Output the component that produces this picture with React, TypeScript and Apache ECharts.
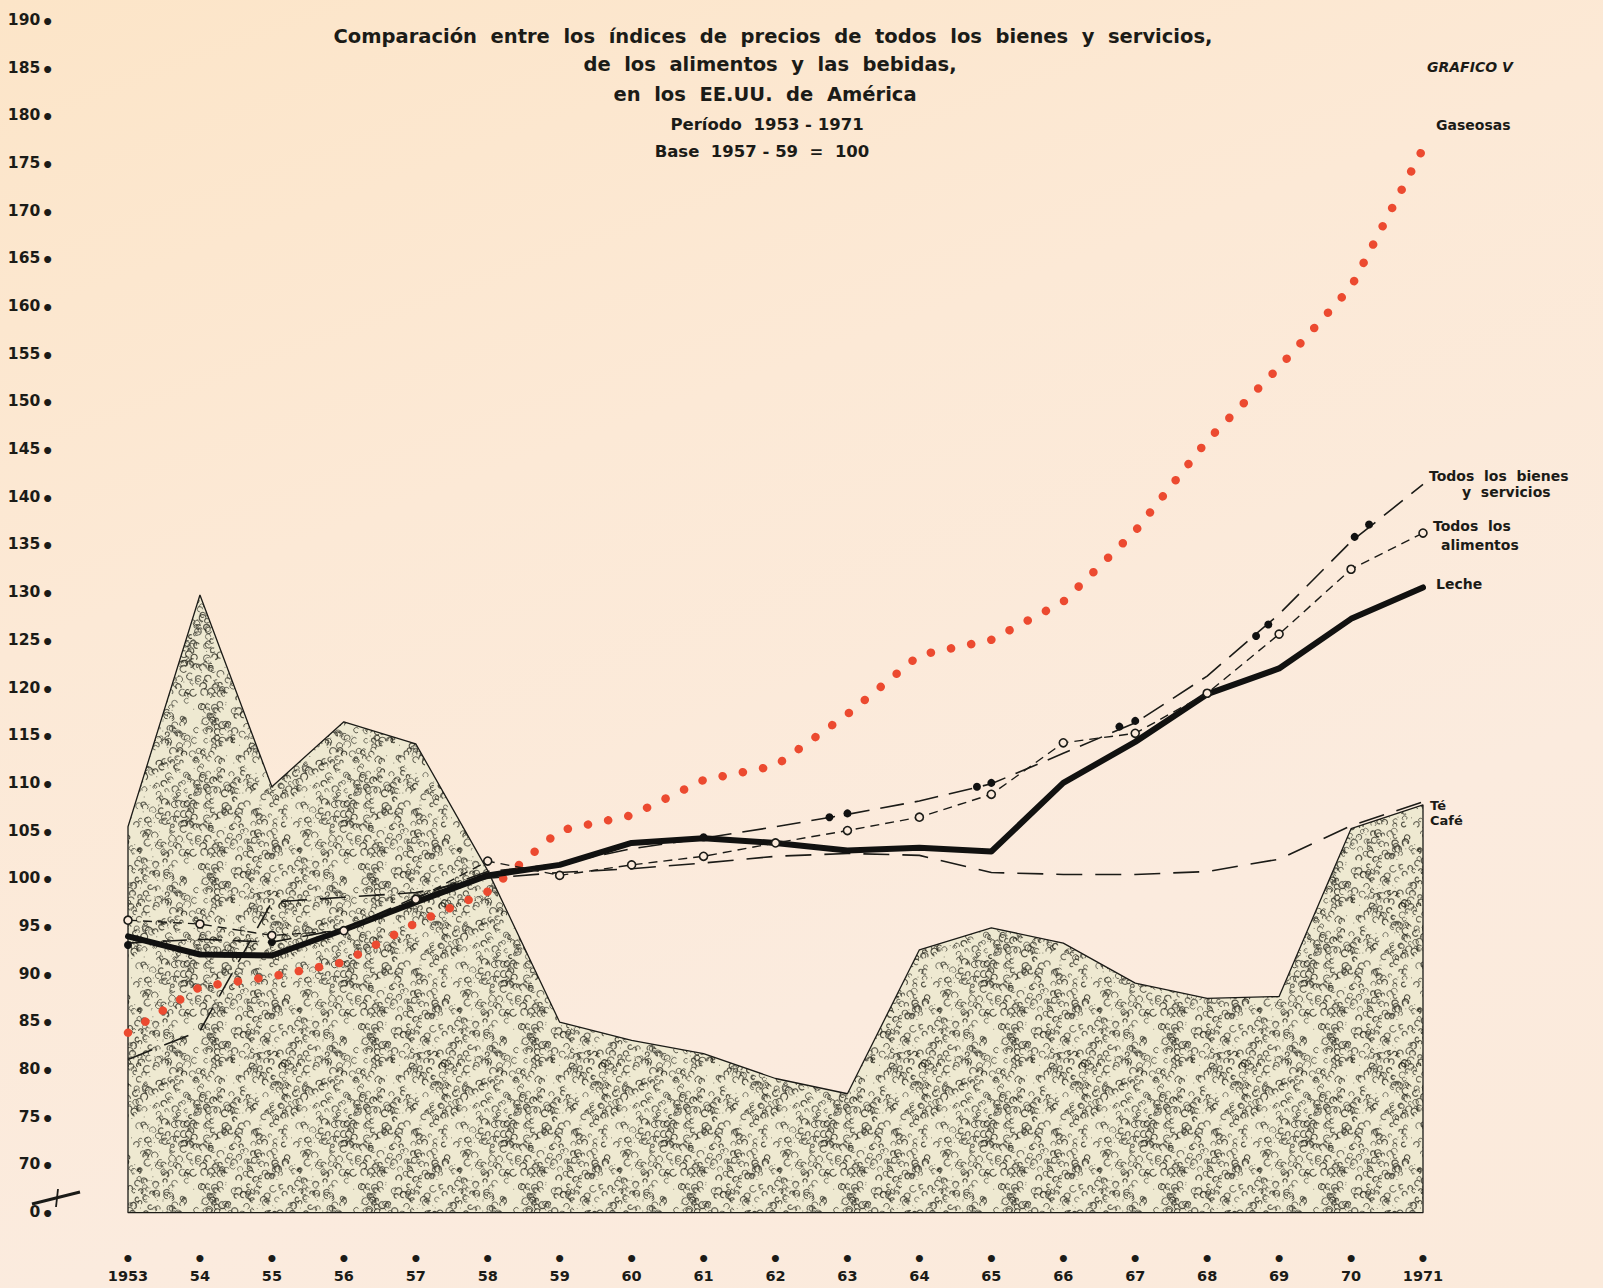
import React, { useEffect, useRef } from "react";
import * as echarts from "echarts";

const years = [1953, 1954, 1955, 1956, 1957, 1958, 1959, 1960, 1961, 1962, 1963, 1964, 1965, 1966, 1967, 1968, 1969, 1970, 1971];
const gaseosas = [83.8, 88.6, 89.7, 91.2, 95.3, 98.6, 105.0, 106.6, 110.3, 111.8, 117.2, 123.4, 125.0, 129.0, 136.4, 145.9, 153.6, 162.0, 176.5];
const todosBienes = [93.2, 93.6, 93.3, 94.7, 98.0, 100.7, 101.5, 103.1, 104.2, 105.4, 106.7, 108.1, 109.9, 113.1, 116.3, 121.2, 127.7, 135.3, 141.3];
const todosAlimentos = [95.6, 95.2, 94.0, 94.5, 97.8, 101.8, 100.3, 101.4, 102.3, 103.7, 105.0, 106.4, 108.8, 114.2, 115.2, 119.4, 125.6, 132.4, 136.2];
const leche = [93.9, 92.0, 91.9, 94.6, 97.5, 100.3, 101.4, 103.7, 104.2, 103.7, 102.9, 103.2, 102.8, 110.0, 114.3, 119.3, 122.0, 127.2, 130.5];
const te = [81.0, 84.0, 97.5, 98.0, 98.5, 100.0, 100.6, 101.0, 101.6, 102.3, 102.6, 102.4, 100.6, 100.4, 100.4, 100.7, 102.0, 105.5, 108.0];
const cafe = [105.4, 129.7, 109.6, 116.4, 114.1, 100.8, 84.9, 83.0, 81.6, 79.0, 77.4, 92.5, 94.8, 93.2, 89.0, 87.4, 87.6, 105.2, 107.7];
// filled dots drawn along the "Todos los bienes" line: [year, index]
const bienesDots = [
  [1953, 93.0], [1955, 93.3], [1961, 104.3],
  [1962.75, 106.4], [1963, 106.8],
  [1964.8, 109.6], [1965, 110.0],
  [1966.78, 115.9], [1967, 116.5],
  [1968.68, 125.4], [1968.85, 126.6],
  [1970.05, 135.8], [1970.25, 137.1],
];
const yMin = 65; // drawn as the broken-axis "0"
const yMax = 190;

const F = "'DejaVu Sans', 'Noto Sans', sans-serif";
const INK = "#1b1b17";
const PAPER = "#fbeadb";

function makeStipple(): HTMLCanvasElement {
  const size = 160;
  const c = document.createElement("canvas");
  c.width = size;
  c.height = size;
  const ctx = c.getContext("2d")!;
  ctx.fillStyle = "#eee9d1";
  ctx.fillRect(0, 0, size, size);
  let s = 987654321;
  const rnd = () => {
    s = (s * 1664525 + 1013904223) >>> 0;
    return s / 4294967296;
  };
  for (let i = 0; i < 520; i++) {
    const x = rnd() * size;
    const y = rnd() * size;
    const r = 1.7 + rnd() * 1.8;
    const a = Math.PI * (0.1 + rnd() * 0.9);
    const g = 30 + Math.floor(rnd() * 50);
    ctx.strokeStyle = `rgba(${g},${g},${g - 10},0.78)`;
    ctx.lineWidth = 0.8 + rnd() * 0.45;
    for (const dx of [-size, 0, size]) {
      for (const dy of [-size, 0, size]) {
        ctx.beginPath();
        ctx.arc(x + dx, y + dy, r, a, a + Math.PI * 1.5);
        ctx.stroke();
      }
    }
  }
  for (let i = 0; i < 250; i++) {
    const x = rnd() * size;
    const y = rnd() * size;
    ctx.fillStyle = "rgba(40,40,30,0.55)";
    ctx.fillRect(x, y, 1, 1);
  }
  return c;
}

const pairs = (vals: number[]) => years.map((y, i) => [y, vals[i]]);

export default function App() {
  const ref = useRef<HTMLDivElement>(null);
  useEffect(() => {
    if (!ref.current) return;
    const chart = echarts.init(ref.current, undefined, { renderer: "svg" });
    const stipple = makeStipple();
    const cafePoly = [[years[0], yMin], ...pairs(cafe), [years[years.length - 1], yMin]];

    const txt = (text: string, x: number, y: number, size: number, align = "left", extra: any = {}) => ({
      type: "text",
      x,
      y,
      silent: true,
      style: {
        text,
        fill: INK,
        font: `${extra.italic ? "italic " : ""}bold ${size}px ${F}`,
        textAlign: align,
        textVerticalAlign: "middle",
      },
    });

    const option: any = {
      animation: false,
      backgroundColor: "transparent",
      grid: { left: 128, right: 180, top: 20, bottom: 76 },
      xAxis: {
        type: "value",
        min: years[0],
        max: years[years.length - 1],
        interval: 1,
        axisLine: { show: true, lineStyle: { color: INK, width: 1.4 } },
        axisTick: { show: false },
        splitLine: { show: false },
        axisLabel: {
          margin: 40,
          formatter: (v: number) => {
            const lab = v === 1953 || v === 1971 ? String(v) : String(v).slice(2);
            return `{d|•}\n{t|${lab}}`;
          },
          rich: {
            d: { fontSize: 20, lineHeight: 14, fontFamily: F, fontWeight: "bold", color: INK, align: "center" },
            t: { fontSize: 14.5, lineHeight: 20, fontFamily: F, fontWeight: "bold", color: INK, align: "center" },
          },
        },
      },
      yAxis: {
        type: "value",
        min: yMin,
        max: yMax,
        interval: 5,
        axisLine: { show: false },
        axisTick: { show: false },
        splitLine: { show: false },
        axisLabel: {
          margin: 74,
          showMinLabel: true,
          showMaxLabel: true,
          formatter: (v: number) => `{t|${v === yMin ? 0 : v}}{d|•}`,
          rich: {
            t: { fontSize: 15.5, fontFamily: F, fontWeight: "bold", color: INK },
            d: { fontSize: 20, fontFamily: F, fontWeight: "bold", color: INK, padding: [4, 0, 0, 1] },
          },
        },
      },
      series: [
        {
          name: "Café",
          type: "line",
          data: cafePoly,
          symbol: "none",
          clip: false,
          z: 1,
          lineStyle: { color: INK, width: 1.3 },
          areaStyle: {
            origin: "start",
            opacity: 1,
            color: { image: stipple, repeat: "repeat", imageWidth: 160, imageHeight: 160 },
          },
        },
        {
          name: "Té",
          type: "line",
          data: pairs(te),
          symbol: "none",
          z: 3,
          lineStyle: { color: INK, width: 1.6, type: [26, 13] },
        },
        {
          name: "Todos los bienes y servicios",
          type: "line",
          data: pairs(todosBienes),
          symbol: "none",
          z: 4,
          lineStyle: { color: INK, width: 1.6, type: [24, 11] },
        },
        {
          name: "Todos los bienes (puntos)",
          type: "scatter",
          data: bienesDots,
          symbolSize: 8,
          z: 6,
          itemStyle: { color: "#111", opacity: 1 },
        },
        {
          name: "Gaseosas",
          type: "line",
          data: pairs(gaseosas),
          symbol: "none",
          z: 5,
          lineStyle: { color: "#ec4a30", width: 8.5, type: [0.1, 20.5], cap: "round" },
        },
        {
          name: "Leche",
          type: "line",
          data: pairs(leche),
          symbol: "none",
          z: 6,
          lineStyle: { color: "#111110", width: 6, cap: "round", join: "round" },
        },
        {
          name: "Todos los alimentos",
          type: "line",
          data: pairs(todosAlimentos),
          symbol: "circle",
          symbolSize: 8,
          showSymbol: true,
          z: 7,
          lineStyle: { color: INK, width: 1.4, type: [9, 6] },
          itemStyle: { color: PAPER, borderColor: INK, borderWidth: 1.6 },
        },
      ],
      graphic: [
        txt("Comparación  entre  los  índices  de  precios  de  todos  los  bienes  y  servicios,", 773, 36, 19.5, "center"),
        txt("de  los  alimentos  y  las  bebidas,", 770, 64, 19.5, "center"),
        txt("en  los  EE.UU.  de  América", 765, 94, 19.5, "center"),
        txt("Período  1953 - 1971", 767, 124, 16.5, "center"),
        txt("Base  1957 - 59  =  100", 762, 151, 16.5, "center"),
        txt("GRAFICO V", 1427, 67, 14, "left", { italic: true }),
        txt("Gaseosas", 1436, 125, 14),
        txt("Todos  los  bienes", 1429, 476, 14),
        txt("y  servicios", 1462, 492, 14),
        txt("Todos  los", 1433, 526, 14),
        txt("alimentos", 1441, 545, 14),
        txt("Leche", 1436, 584, 14),
        txt("Té", 1430, 805, 13),
        txt("Café", 1430, 820, 13),
        {
          type: "line",
          silent: true,
          shape: { x1: 32, y1: 1204, x2: 80, y2: 1192 },
          style: { stroke: INK, lineWidth: 3.2 },
        },
        {
          type: "line",
          silent: true,
          shape: { x1: 58, y1: 1189, x2: 56, y2: 1207 },
          style: { stroke: INK, lineWidth: 1.8 },
        },
      ],
    };
    chart.setOption(option);
    return () => chart.dispose();
  }, []);

  return (
    <div
      style={{
        position: "fixed",
        left: 0,
        top: 0,
        width: 1603,
        height: 1288,
        background: "linear-gradient(160deg, #fce5c8 0%, #fce9d6 35%, #fbebde 70%, #fbeadb 100%)",
      }}
    >
      <div ref={ref} style={{ width: 1603, height: 1288 }} />
    </div>
  );
}
